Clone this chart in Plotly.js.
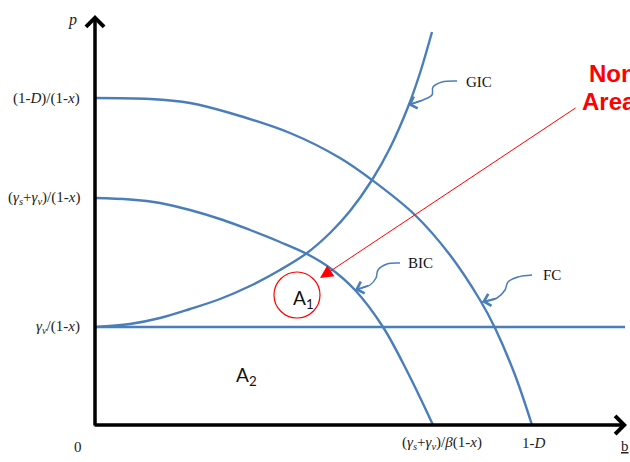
<!DOCTYPE html>
<html><head><meta charset="utf-8">
<script src="https://cdn.plot.ly/plotly-3.0.1.min.js"></script>
<style>html,body{margin:0;padding:0;background:#fff}#chart{width:630px;height:462px}</style>
</head><body><div id="chart"></div>
<script>
// Curves in chart units: b along the horizontal axis, p up the vertical axis.
const fcB  = [0, 55, 95, 135, 195, 245, 277, 320, 355, 385, 400, 420, 437];
const fcP  = [327, 326, 322, 312, 292, 267, 245, 210, 170, 125, 97, 50, 0];
const bicB = [0, 35, 65, 95, 128, 155, 185, 212, 235, 260, 288, 313, 338];
const bicP = [227, 225.5, 222, 215, 205, 195, 183, 171, 157, 135, 98, 52, 0];
const gicB = [0, 35, 65, 95, 125, 155, 185, 212, 235, 255, 277, 295, 313, 325, 337];
const gicP = [98, 101, 107, 116, 126, 139, 155, 172, 192, 214, 245, 277, 318, 352, 393];
const gammaLineB = [0, 530];
const gammaLineP = [98, 98];

// Axis extents (arrow tips)
const bAxisEnd = 532;
const pAxisEnd = 410;

// Tick labels
const pTickVals = [327, 227, 98];
const pTickText = [
  '(1-<i>D</i>)/(1-<i>x</i>)',
  '(<i>γ</i><sub><i>s</i></sub>+<i>γ</i><sub><i>v</i></sub>)/(1-<i>x</i>)',
  '<i>γ</i><sub><i>v</i></sub>/(1-<i>x</i>)'
];
const bTickVals = [338, 437];
const bTickText = [
  '(<i>γ</i><sub><i>s</i></sub>+<i>γ</i><sub><i>v</i></sub>)/<i>β</i>(1-<i>x</i>)',
  '1-<i>D</i>'
];
const bTickShift = [9, 2];

// Curve names and the curly leaders pointing to each curve
const curveNames = ['GIC', 'BIC', 'FC'];
const curveLabelB = [384, 325, 457];
const curveLabelP = [343, 162, 150];
const leaderB = [
  [362, 347, 338, 337, 328, 313],
  [305, 292, 283, 281, 275, 260],
  [437, 423, 413, 410, 402, 387]
];
const leaderP = [
  [344, 343, 338, 330, 325, 320],
  [162, 161, 155, 147, 140, 135],
  [150, 148, 143, 135, 127, 123]
];

// Regions and the highlighted zone
const areaNames = ['A<sub>1</sub>', 'A<sub>2</sub>'];
const areaB = [208, 151];
const areaP = [126, 49];
const zoneCircleB = [179, 225];
const zoneCircleP = [107, 153];
const zoneArrowFrom = [482, 318];
const zoneArrowTo = [225, 147];
const zoneText = ['Non', 'Area'];
const zoneTextB = [492, 485];
const zoneTextP = [352, 324];

const blue = '#4A7EBB';
const serif = 'Liberation Serif, Times New Roman, serif';

const curve = (x, y) => ({
  x, y, type: 'scatter', mode: 'lines', hoverinfo: 'skip',
  line: {color: blue, width: 2.4, shape: 'spline', smoothing: 1}
});

const traces = [
  curve(fcB, fcP),
  curve(bicB, bicP),
  curve(gicB, gicP),
  {x: gammaLineB, y: gammaLineP, type: 'scatter', mode: 'lines', hoverinfo: 'skip',
   line: {color: blue, width: 2.4}}
];
leaderB.forEach((xs, i) => {
  traces.push({x: xs, y: leaderP[i], type: 'scatter', mode: 'lines', hoverinfo: 'skip',
    line: {color: blue, width: 1.5, shape: 'spline', smoothing: 1}});
});

const ann = [];
// axes drawn as arrows from the origin
ann.push({x: 0, y: pAxisEnd, ax: 0, ay: -2, xref: 'x', yref: 'y', axref: 'x', ayref: 'y',
  text: '', showarrow: true, arrowhead: 4, arrowsize: 1, arrowwidth: 3.5, arrowcolor: '#000', standoff: 0});
ann.push({x: bAxisEnd, y: 0, ax: -2, ay: 0, xref: 'x', yref: 'y', axref: 'x', ayref: 'y',
  text: '', showarrow: true, arrowhead: 4, arrowsize: 1, arrowwidth: 3.5, arrowcolor: '#000', standoff: 0});

pTickVals.forEach((v, i) => ann.push({x: 0, y: v, xref: 'x', yref: 'y', xanchor: 'right', yanchor: 'middle',
  xshift: -13, text: pTickText[i], showarrow: false, font: {family: serif, size: 15, color: '#222'}}));
bTickVals.forEach((v, i) => ann.push({x: v, y: 0, xref: 'x', yref: 'y', xanchor: 'center', yanchor: 'middle',
  xshift: bTickShift[i], yshift: -18, text: bTickText[i], showarrow: false, font: {family: serif, size: 15, color: '#222'}}));
ann.push({x: 0, y: 0, xref: 'x', yref: 'y', xshift: -17, yshift: -22, text: '0', showarrow: false,
  font: {family: serif, size: 15, color: '#222'}});
ann.push({x: 0, y: 405, xref: 'x', yref: 'y', xshift: -23, text: '<i>p</i>', showarrow: false,
  font: {family: serif, size: 16, color: '#222'}});
ann.push({x: bAxisEnd, y: 0, xref: 'x', yref: 'y', xshift: -2, yshift: -21, text: '<u>b</u>', showarrow: false,
  font: {family: serif, size: 15, color: '#222'}});

curveNames.forEach((n, i) => {
  ann.push({x: curveLabelB[i], y: curveLabelP[i], xref: 'x', yref: 'y', text: n, showarrow: false,
    font: {family: serif, size: 15, color: '#111'}});
  const xs = leaderB[i], ys = leaderP[i], k = xs.length - 1;
  ann.push({x: xs[k], y: ys[k], ax: xs[k - 1], ay: ys[k - 1], xref: 'x', yref: 'y', axref: 'x', ayref: 'y',
    text: '', showarrow: true, arrowhead: 4, arrowsize: 1.6, arrowwidth: 1.5, arrowcolor: blue, standoff: 0});
});

areaNames.forEach((n, i) => ann.push({x: areaB[i], y: areaP[i], xref: 'x', yref: 'y', text: n, showarrow: false,
  font: {family: 'Lato, Carlito, sans-serif', size: 19, color: '#111'}}));

ann.push({x: zoneArrowTo[0], y: zoneArrowTo[1], ax: zoneArrowFrom[0], ay: zoneArrowFrom[1],
  xref: 'x', yref: 'y', axref: 'x', ayref: 'y', text: '', showarrow: true,
  arrowhead: 2, arrowsize: 2.6, arrowwidth: 1, arrowcolor: '#ff0000', standoff: 0});
zoneText.forEach((t, i) => ann.push({x: zoneTextB[i], y: zoneTextP[i], xref: 'x', yref: 'y', xanchor: 'left',
  text: '<b>' + t + '</b>', showarrow: false, font: {family: 'Liberation Sans, Arial, sans-serif', size: 24, color: '#ff0000'}}));

const layout = {
  width: 630, height: 462,
  margin: {l: 0, r: 0, t: 0, b: 0},
  paper_bgcolor: '#fff', plot_bgcolor: '#fff',
  showlegend: false,
  xaxis: {range: [-95, 535], visible: false, fixedrange: true},
  yaxis: {range: [-37, 425], visible: false, fixedrange: true},
  shapes: [{type: 'circle', xref: 'x', yref: 'y', x0: zoneCircleB[0], x1: zoneCircleB[1],
    y0: zoneCircleP[0], y1: zoneCircleP[1], line: {color: '#ff0000', width: 1.2}}],
  annotations: ann
};

Plotly.newPlot('chart', traces, layout, {staticPlot: true, displayModeBar: false});
</script>
</body></html>
